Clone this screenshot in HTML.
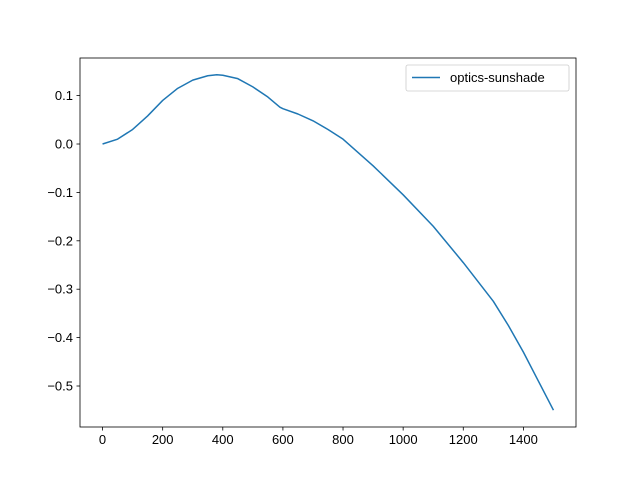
<!DOCTYPE html>
<html><head><meta charset="utf-8"><style>
body{margin:0;background:#fff;}
svg text{font-family:"Liberation Sans","DejaVu Sans",sans-serif;font-size:13px;fill:#000;}
</style></head><body>
<svg id="chart" width="640" height="480">
<rect x="0" y="0" width="640" height="480" fill="#fff"/>
<g id="plot"></g>
</svg>
<script>
const xs=[0,50,100,150,200,250,300,350,380,400,450,500,550,590,600,650,700,750,800,900,1000,1100,1200,1300,1350,1400,1450,1500];
const ys=[0,0.01,0.03,0.058,0.09,0.115,0.132,0.141,0.143,0.142,0.135,0.118,0.097,0.076,0.073,0.062,0.048,0.03,0.01,-0.045,-0.105,-0.17,-0.245,-0.325,-0.375,-0.43,-0.49,-0.55];
const xTicks=[0,200,400,600,800,1000,1200,1400];
const yTicks=[0.1,0.0,-0.1,-0.2,-0.3,-0.4,-0.5];
const yLabels=["0.1","0.0","\u22120.1","\u22120.2","\u22120.3","\u22120.4","\u22120.5"];
const seriesName="optics-sunshade";

const L=80,R=576,T=58,B=427;
const xmin=-75,xmax=1575,ymin=-0.5847,ymax=0.1777;
const sx=v=>L+(v-xmin)/(xmax-xmin)*(R-L);
const sy=v=>B-(v-ymin)/(ymax-ymin)*(B-T);
const NS="http://www.w3.org/2000/svg";
const g=document.getElementById('plot');
function mk(t,a){const e=document.createElementNS(NS,t);for(const k in a)e.setAttribute(k,a[k]);g.appendChild(e);return e;}

xTicks.forEach(v=>{
  const t=mk('line',{x1:sx(v),x2:sx(v),y1:B,y2:B+3.5,stroke:'#000','stroke-width':0.8});
  
  
  const l=mk('text',{x:sx(v),y:B+17,'text-anchor':'middle'});l.textContent=v;
  
  
});
yTicks.forEach((v,i)=>{
  const t=mk('line',{x1:L-3.5,x2:L,y1:sy(v),y2:sy(v),stroke:'#000','stroke-width':0.8});
  
  
  const l=mk('text',{x:L-7,y:sy(v)+4.5,'text-anchor':'end'});l.textContent=yLabels[i];
  
  
});
const p=mk('polyline',{points:xs.map((x,i)=>sx(x)+','+sy(ys[i])).join(' '),fill:'none',stroke:'#1f77b4','stroke-width':1.5,'stroke-linejoin':'round'});


const fr=mk('rect',{x:L,y:T,width:R-L,height:B-T,fill:'none',stroke:'#000','stroke-width':0.8});


const lg=mk('rect',{x:406,y:65,width:163,height:26,rx:2,fill:'#fff','fill-opacity':0.8,stroke:'#ccc','stroke-width':0.8});


const ll=mk('line',{x1:412,x2:440,y1:77.5,y2:77.5,stroke:'#1f77b4','stroke-width':1.5});


const lt=mk('text',{x:450,y:82});lt.textContent=seriesName;


</script>
</body></html>
